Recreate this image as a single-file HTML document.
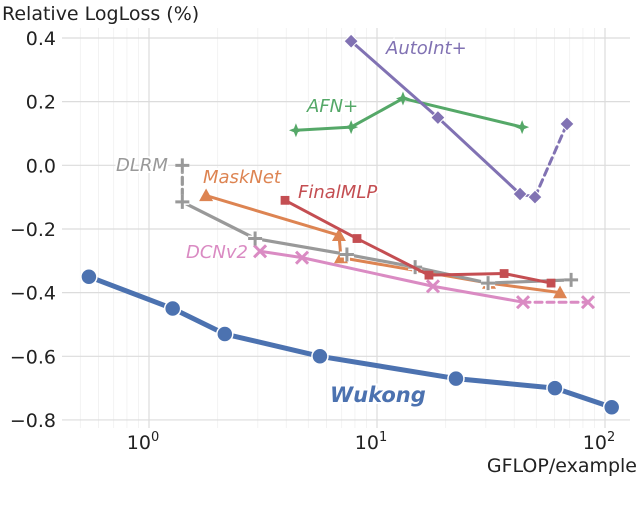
<!DOCTYPE html>
<html><head><meta charset="utf-8"><style>
html,body{margin:0;padding:0;background:#fff;width:640px;height:510px;overflow:hidden}
svg{display:block;font-family:"DejaVu Sans","Liberation Sans",sans-serif}
</style></head><body>
<svg id="chart" width="640" height="510" xmlns="http://www.w3.org/2000/svg"></svg>
<script>
const yTicks=[0.4,0.2,0.0,-0.2,-0.4,-0.6,-0.8];
const yTickLabels=["0.4","0.2","0.0","\u22120.2","\u22120.4","\u22120.6","\u22120.8"];
const xDecades=[0,1,2];
const wukongX=[0.545,1.27,2.15,5.62,22.2,60.3,107];
const wukongY=[-0.35,-0.45,-0.53,-0.60,-0.67,-0.70,-0.76];
const autointX=[7.7,18.5,42.4,49.3,68.1];
const autointY=[0.39,0.15,-0.09,-0.10,0.13];
const afnX=[4.41,7.7,13.0,43.3];
const afnY=[0.11,0.12,0.21,0.12];
const dlrmX=[1.40,1.40,2.92,7.38,14.7,30.7,71.0];
const dlrmY=[0.0,-0.115,-0.23,-0.28,-0.32,-0.37,-0.36];
const masknetX=[1.78,6.81,6.95,31.0,63.5];
const masknetY=[-0.095,-0.22,-0.29,-0.37,-0.40];
const finalmlpX=[3.95,8.17,16.9,36.1,58];
const finalmlpY=[-0.11,-0.23,-0.345,-0.34,-0.37];
const dcnX=[3.07,4.69,17.6,43.7,84.2];
const dcnY=[-0.27,-0.29,-0.38,-0.43,-0.43];

const NS="http://www.w3.org/2000/svg";
const svg=document.getElementById('chart');
const L=62,R=630,T=28,B=428;
function X(v){return 149+Math.log10(v)*228;}
function Y(v){return 38+(0.4-v)*318.3;}
function mk(tag,attrs,parent){const e=document.createElementNS(NS,tag);for(const k in attrs)e.setAttribute(k,attrs[k]);(parent||svg).appendChild(e);return e;}

const grid=mk('g',{});


for(let d=-1;d<=2;d++){for(let m=1;m<10;m++){const v=m*Math.pow(10,d);const x=X(v);if(x<L||x>R)continue;
 mk('line',{x1:x,x2:x,y1:T,y2:B,stroke:m===1?'#dcdcdc':'#f0f0f0','stroke-width':m===1?1.2:0.8},grid);}}
yTicks.forEach((t,i)=>{const y=Y(t);mk('line',{x1:L,x2:R,y1:y,y2:y,stroke:'#dcdcdc','stroke-width':1.2},grid);
 const tx=mk('text',{x:56,y:y+7,'text-anchor':'end','font-size':19,fill:'#222'});tx.textContent=yTickLabels[i];
 
 });
xDecades.forEach(d=>{const x=X(Math.pow(10,d));const t=mk('text',{x:x-6,y:449,'text-anchor':'middle','font-size':19,fill:'#222'});
 t.textContent='10';const s=mk('tspan',{dy:-8,'font-size':13},t);s.textContent=String(d);
 
 });
let t=mk('text',{x:2,y:20,'font-size':19,fill:'#222'});t.textContent='Relative LogLoss (%)';


t=mk('text',{x:637,y:472,'text-anchor':'end','font-size':19,fill:'#222'});t.textContent='GFLOP/example';



function marker(g,type,x,y,c,s){
 if(type==='circle')mk('circle',{cx:x,cy:y,r:s,fill:c,stroke:'#fff','stroke-width':1.5},g);
 else if(type==='diamond')mk('polygon',{points:`${x},${y-s} ${x+s},${y} ${x},${y+s} ${x-s},${y}`,fill:c,stroke:'#fff','stroke-width':1},g);
 else if(type==='star'){let p=[];for(let i=0;i<8;i++){const r=i%2?s*0.4:s;const a=i*Math.PI/4-Math.PI/2;p.push((x+r*Math.cos(a))+','+(y+r*Math.sin(a)));}mk('polygon',{points:p.join(' '),fill:c},g);}
 else if(type==='plus'){mk('path',{d:`M${x-s},${y}H${x+s}M${x},${y-s}V${y+s}`,stroke:'#fff','stroke-width':6},g);mk('path',{d:`M${x-s},${y}H${x+s}M${x},${y-s}V${y+s}`,stroke:c,'stroke-width':3},g);}
 else if(type==='tri')mk('polygon',{points:`${x},${y-s} ${x+s},${y+s*0.8} ${x-s},${y+s*0.8}`,fill:c},g);
 else if(type==='square')mk('rect',{x:x-s*0.8,y:y-s*0.8,width:s*1.6,height:s*1.6,fill:c},g);
 else if(type==='x'){mk('path',{d:`M${x-s},${y-s}L${x+s},${y+s}M${x-s},${y+s}L${x+s},${y-s}`,stroke:c,'stroke-width':3},g);}
}
function series(name,xs,ys,c,type,s,w,dashed,label,lx,ly,bold){
 const g=mk('g',{});
 
 
 for(let i=0;i<xs.length-1;i++){
  const a={x1:X(xs[i]),y1:Y(ys[i]),x2:X(xs[i+1]),y2:Y(ys[i+1]),stroke:c,'stroke-width':w,'stroke-linecap':'round'};
  if(dashed.includes(i))a['stroke-dasharray']='7,5';
  mk('line',a,g);}
 xs.forEach((v,i)=>marker(g,type,X(v),Y(ys[i]),c,s));
 const tx=mk('text',{x:lx,y:ly,'font-size':bold?21:18,'font-style':'italic','font-weight':bold?'bold':'normal',fill:c,stroke:'#fff','stroke-width':4,'paint-order':'stroke'},g);
 tx.textContent=label;
 
 
}
series('dcnv2',dcnX,dcnY,'#da8bc3','x',6,3,[3],'DCNv2',186,258,false);
series('masknet',masknetX,masknetY,'#dd8452','tri',7,3,[],'MaskNet',203,183,false);
series('dlrm',dlrmX,dlrmY,'#999999','plus',7,3.2,[0],'DLRM',116,171,false);
series('finalmlp',finalmlpX,finalmlpY,'#c44e52','square',5.5,3,[],'FinalMLP',298,198,false);
series('afn',afnX,afnY,'#55a868','star',7,3,[],'AFN+',307,112,false);
series('autoint',autointX,autointY,'#8172b3','diamond',7,3,[3],'AutoInt+',386,54,false);
series('wukong',wukongX,wukongY,'#4c72b0','circle',8,5,[],'Wukong',330,402,true);
</script>
</body></html>
